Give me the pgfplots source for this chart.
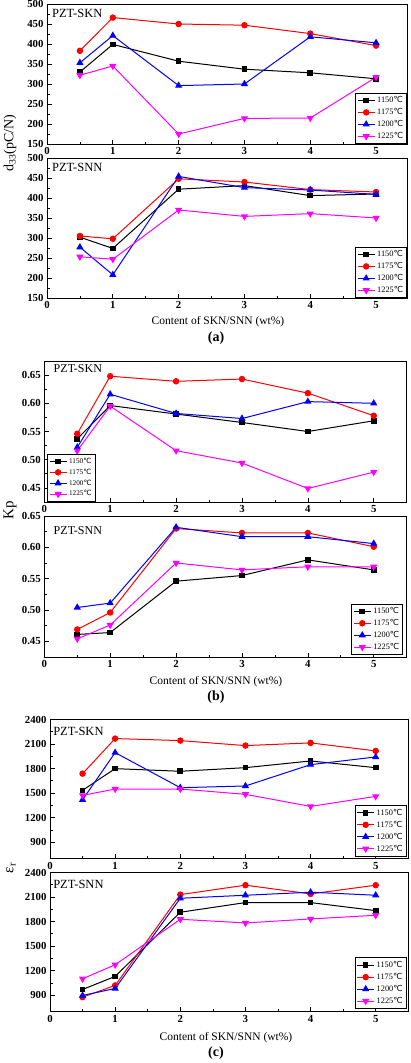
\documentclass[border=0pt]{standalone}
\usepackage{pgfplots}
\pgfplotsset{compat=1.18}
\usepackage{fontspec}
\setmainfont{Liberation Serif}
\newfontfamily\dv{DejaVu Sans}
\newcommand{\dc}{{\dv ℃}}
\definecolor{mag}{RGB}{255,0,255}

\pgfplotsset{
  panel/.style={
    scale only axis, anchor=north west,
    xmin=0, xtick={0,1,2,3,4,5}, minor x tick num=1, minor y tick num=1,
    tick align=inside, tick pos=left,
    major tick length=4.5pt, minor tick length=2.5pt,
    tick style={line width=0.7pt, black},
    ticklabel style={font=\fontsize{10.8}{11}\selectfont\bfseries},
    /pgf/number format/assume math mode=true,
    /pgf/number format/1000 sep={},
    axis line style={line width=1pt},
    legend style={font=\fontsize{8.3}{9}\selectfont, draw=black, line width=0.7pt,
      inner sep=1.5pt, row sep=0.3pt, cells={anchor=west}},
    legend cell align=left,
    legend image post style={line width=1pt},
  },
  s1150/.style={black, line width=1pt, mark=square*, mark size=2.3pt, mark options={solid}},
  s1175/.style={red, line width=1pt, mark=*, mark size=2.7pt, mark options={solid}},
  s1200/.style={blue, line width=1pt, mark=triangle*, mark size=3.2pt, mark options={solid}},
  s1225/.style={mag, line width=1pt, mark=triangle*, mark size=3.2pt, mark options={solid, rotate=180}},
}

\begin{document}
\begin{tikzpicture}[x=1pt,y=1pt]
\path[use as bounding box] (0,0) rectangle (411,-1063);

% ---------- (a) top: PZT-SKN d33
\begin{axis}[panel, at={(47pt,-4pt)}, width=360pt, height=140pt,
  xmax=5.47, ymin=150, ymax=500, ytick={150,200,...,500},
  legend style={at={(rel axis cs:1,0)}, anchor=south east}]
\addplot[s1150] coordinates {(0.5,330) (1,399) (2,357) (3,337) (4,328) (5,313)};
\addplot[s1175] coordinates {(0.5,383) (1,466) (2,450) (3,447) (4,426) (5,396)};
\addplot[s1200] coordinates {(0.5,353) (1,421) (2,296) (3,300) (4,418) (5,403)};
\addplot[s1225] coordinates {(0.5,322) (1,345) (2,175) (3,214) (4,215) (5,317)};
\legend{1150\dc,1175\dc,1200\dc,1225\dc}
\node[anchor=north west, font=\fontsize{12.5}{12.5}\selectfont, inner sep=2pt] at (rel axis cs:0.008,0.975) {PZT-SKN};
\end{axis}

% ---------- (a) bottom: PZT-SNN d33
\begin{axis}[panel, at={(47pt,-158pt)}, width=360pt, height=140pt,
  xmax=5.47, ymin=150, ymax=500, ytick={150,200,...,500},
  legend style={at={(rel axis cs:1,0)}, anchor=south east}]
\addplot[s1150] coordinates {(0.5,302) (1,274) (2,422) (3,431) (4,406) (5,410)};
\addplot[s1175] coordinates {(0.5,305) (1,298) (2,448) (3,440) (4,421) (5,415)};
\addplot[s1200] coordinates {(0.5,277) (1,208) (2,454) (3,426) (4,420) (5,409)};
\addplot[s1225] coordinates {(0.5,253) (1,247) (2,370) (3,354) (4,361) (5,350)};
\legend{1150\dc,1175\dc,1200\dc,1225\dc}
\node[anchor=north west, font=\fontsize{12.5}{12.5}\selectfont, inner sep=2pt] at (rel axis cs:0.008,0.975) {PZT-SNN};
\end{axis}

\node[rotate=90, font=\fontsize{14}{14}\selectfont] at (10,-143) {d\textsubscript{33}(pC/N)};
\node[font=\fontsize{11.5}{11.5}\selectfont] at (218,-322) {Content of SKN/SNN (wt\%)};
\node[font=\fontsize{14}{14}\selectfont\bfseries] at (216,-338) {(a)};

% ---------- (b) top: PZT-SKN Kp
\begin{axis}[panel, at={(44.3pt,-361pt)}, width=362.4pt, height=141pt,
  xmax=5.5, ymin=0.425, ymax=0.675, ytick={0.45,0.50,...,0.66},
  yticklabel style={/pgf/number format/.cd, fixed, fixed zerofill, precision=2},
  legend style={at={(rel axis cs:0.008,0.005)}, anchor=south west,
    font=\fontsize{7.2}{8}\selectfont, row sep=0pt}]
\addplot[s1150] coordinates {(0.5,0.537) (1,0.596) (2,0.581) (3,0.566) (4,0.550) (5,0.569)};
\addplot[s1175] coordinates {(0.5,0.546) (1,0.648) (2,0.639) (3,0.643) (4,0.618) (5,0.578)};
\addplot[s1200] coordinates {(0.5,0.522) (1,0.616) (2,0.582) (3,0.573) (4,0.603) (5,0.600)};
\addplot[s1225] coordinates {(0.5,0.516) (1,0.595) (2,0.516) (3,0.494) (4,0.449) (5,0.478)};
\legend{1150\dc,1175\dc,1200\dc,1225\dc}
\node[anchor=north west, font=\fontsize{12}{12}\selectfont, inner sep=2pt] at (rel axis cs:0.02,0.99) {PZT-SKN};
\end{axis}

% ---------- (b) bottom: PZT-SNN Kp
\begin{axis}[panel, at={(44.3pt,-516pt)}, width=362.4pt, height=141pt,
  xmax=5.5, ymin=0.425, ymax=0.65, ytick={0.45,0.50,...,0.66},
  yticklabel style={/pgf/number format/.cd, fixed, fixed zerofill, precision=2},
  legend style={at={(rel axis cs:0.99,0.015)}, anchor=south east}]
\addplot[s1150] coordinates {(0.5,0.461) (1,0.464) (2,0.546) (3,0.555) (4,0.580) (5,0.564)};
\addplot[s1175] coordinates {(0.5,0.469) (1,0.496) (2,0.630) (3,0.623) (4,0.623) (5,0.601)};
\addplot[s1200] coordinates {(0.5,0.504) (1,0.511) (2,0.632) (3,0.617) (4,0.617) (5,0.606)};
\addplot[s1225] coordinates {(0.5,0.454) (1,0.476) (2,0.575) (3,0.564) (4,0.569) (5,0.569)};
\legend{1150\dc,1175\dc,1200\dc,1225\dc}
\node[anchor=north west, font=\fontsize{12}{12}\selectfont, inner sep=2pt] at (rel axis cs:0.02,0.94) {PZT-SNN};
\end{axis}

\node[rotate=90, font=\fontsize{15}{15}\selectfont] at (10,-510) {Kp};
\node[font=\fontsize{11.5}{11.5}\selectfont] at (216,-681.5) {Content of SKN/SNN (wt\%)};
\node[font=\fontsize{14}{14}\selectfont\bfseries] at (216,-697) {(b)};

% ---------- (c) top: PZT-SKN er
\begin{axis}[panel, at={(50pt,-719.5pt)}, width=358.3pt, height=139pt,
  xmax=5.5, ymin=700, ymax=2400, ytick={900,1200,...,2400},
  legend style={at={(rel axis cs:0.995,0.015)}, anchor=south east}]
\addplot[s1150] coordinates {(0.5,1534) (1,1799) (2,1767) (3,1811) (4,1893) (5,1811)};
\addplot[s1175] coordinates {(0.5,1738) (1,2167) (2,2142) (3,2081) (4,2114) (5,2016)};
\addplot[s1200] coordinates {(0.5,1419) (1,1995) (2,1566) (3,1587) (4,1848) (5,1942)};
\addplot[s1225] coordinates {(0.5,1472) (1,1550) (2,1550) (3,1485) (4,1337) (5,1460)};
\legend{1150\dc,1175\dc,1200\dc,1225\dc}
\node[anchor=north west, font=\fontsize{12.5}{12.5}\selectfont, inner sep=2pt] at (rel axis cs:0.003,0.96) {PZT-SKN};
\end{axis}

% ---------- (c) bottom: PZT-SNN er
\begin{axis}[panel, at={(50pt,-872.5pt)}, width=358.3pt, height=139pt,
  xmax=5.5, ymin=700, ymax=2400, ytick={900,1200,...,2400},
  legend style={at={(rel axis cs:0.995,0.02)}, anchor=south east}]
\addplot[s1150] coordinates {(0.5,970) (1,1129) (2,1914) (3,2032) (4,2032) (5,1934)};
\addplot[s1175] coordinates {(0.5,876) (1,1019) (2,2130) (3,2245) (4,2138) (5,2245)};
\addplot[s1200] coordinates {(0.5,896) (1,982) (2,2085) (3,2122) (4,2159) (5,2122)};
\addplot[s1225] coordinates {(0.5,1100) (1,1272) (2,1828) (3,1783) (4,1832) (5,1877)};
\legend{1150\dc,1175\dc,1200\dc,1225\dc}
\node[anchor=north west, font=\fontsize{12.5}{12.5}\selectfont, inner sep=2pt] at (rel axis cs:0.003,0.96) {PZT-SNN};
\end{axis}

\node[rotate=90, font=\fontsize{15}{15}\selectfont] at (11,-868) {ε\textsubscript{r}};
\node[font=\fontsize{11.5}{11.5}\selectfont] at (226,-1038) {Content of SKN/SNN (wt\%)};
\node[font=\fontsize{14}{14}\selectfont\bfseries] at (216,-1053) {(c)};
\end{tikzpicture}
\end{document}
